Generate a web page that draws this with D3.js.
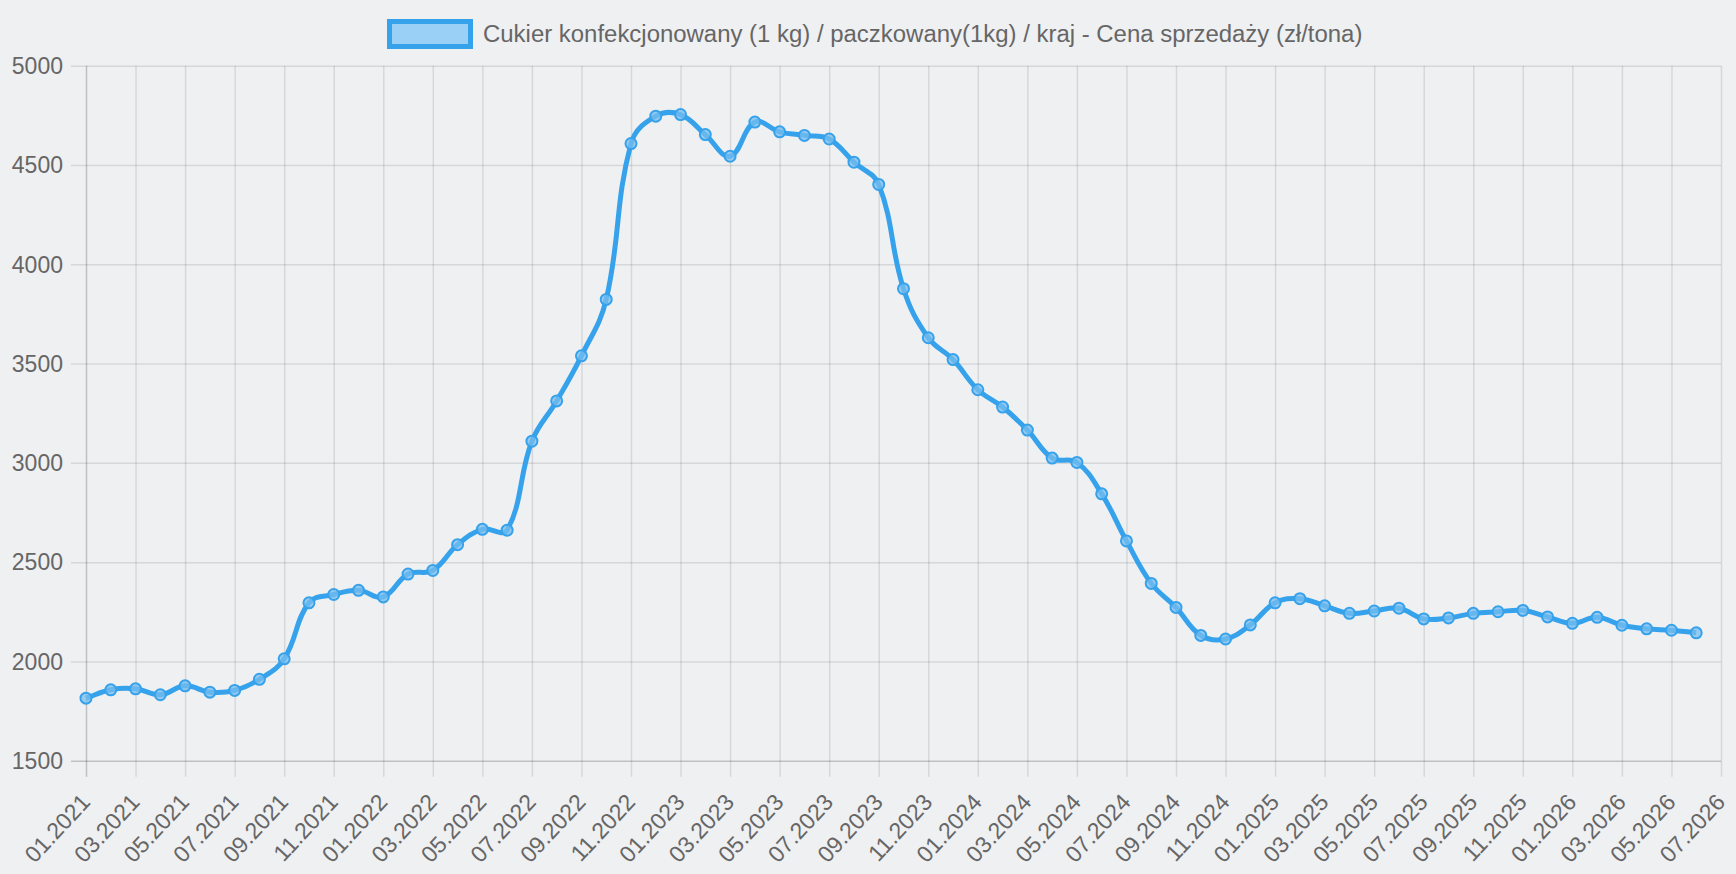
<!DOCTYPE html>
<html>
<head>
<meta charset="utf-8">
<script src="https://cdn.jsdelivr.net/npm/d3@7"></script>
<style>
  html, body { margin: 0; padding: 0; background: #eff0f2; }
  svg { display: block; }
  text { font-family: "Liberation Sans", Arial, Helvetica, sans-serif; fill: #666; }
</style>
</head>
<body>
<svg id="chart" width="1736" height="874"></svg>
<script>
// ---- data ----
const months = [
  "01.2021","02.2021","03.2021","04.2021","05.2021","06.2021","07.2021","08.2021","09.2021","10.2021","11.2021","12.2021",
  "01.2022","02.2022","03.2022","04.2022","05.2022","06.2022","07.2022","08.2022","09.2022","10.2022","11.2022","12.2022",
  "01.2023","02.2023","03.2023","04.2023","05.2023","06.2023","07.2023","08.2023","09.2023","10.2023","11.2023","12.2023",
  "01.2024","02.2024","03.2024","04.2024","05.2024","06.2024","07.2024","08.2024","09.2024","10.2024","11.2024","12.2024",
  "01.2025","02.2025","03.2025","04.2025","05.2025","06.2025","07.2025","08.2025","09.2025","10.2025","11.2025","12.2025",
  "01.2026","02.2026","03.2026","04.2026","05.2026","06.2026","07.2026"
];
const prices = [
  1815, 1857, 1862, 1832, 1877, 1845, 1854, 1910, 2013, 2295, 2337, 2358,
  2325, 2440, 2458, 2588, 2665, 2661, 3109, 3312, 3539, 3823, 4608, 4746,
  4754, 4653, 4544, 4716, 4667, 4649, 4631, 4514, 4402, 3877, 3630, 3520,
  3368, 3281, 3165, 3024, 3002, 2844, 2607, 2393, 2272, 2131, 2113, 2184,
  2295, 2316, 2280, 2242, 2254, 2268, 2214, 2219, 2242, 2250, 2257, 2224,
  2192, 2222, 2182, 2164, 2157, 2144
];
const yTicks = [1500, 2000, 2500, 3000, 3500, 4000, 4500, 5000];
const xTickLabels = months.filter((m, i) => i % 2 === 0);
const seriesLabel = "Cukier konfekcjonowany (1 kg) / paczkowany(1kg) / kraj - Cena sprzedaży (zł/tona)";

// ---- layout ----
const plotL = 86, plotR = 1721, plotT = 65.7, plotB = 760.7;
const svg = d3.select("#chart");

const x = d3.scalePoint().domain(months).range([plotL, plotR]);
const y = d3.scaleLinear().domain([1500, 5000]).range([plotB, plotT]);

const gridColor = "rgba(0,0,0,0.1)";
const axisColor = "rgba(0,0,0,0.2)";

// horizontal grid + y labels
const yAxis = d3.axisLeft(y).tickValues(yTicks).tickSize(0).tickFormat(d3.format("d"));
const gy = svg.append("g").attr("transform", `translate(${plotL},0)`).call(yAxis);
gy.select(".domain").remove();
gy.selectAll(".tick line").attr("x1", -15).attr("x2", plotR - plotL)
  .attr("stroke", d => d === 1500 ? axisColor : gridColor).attr("stroke-width", 1.5);
gy.selectAll(".tick text").attr("x", -23).attr("dy", "0.34em").attr("font-size", 23).attr("fill", "#666")
  .style("font-family", "'Liberation Sans', Arial, sans-serif");

// vertical grid + x labels
const xAxis = d3.axisBottom(x).tickValues(xTickLabels).tickSize(0);
const gx = svg.append("g").attr("transform", `translate(0,${plotB})`).call(xAxis);
gx.select(".domain").remove();
gx.selectAll(".tick line").attr("y1", plotT - plotB).attr("y2", 16)
  .attr("stroke", (d, i) => i === 0 ? axisColor : gridColor).attr("stroke-width", 1.5);
gx.selectAll(".tick text")
  .attr("font-size", 23).attr("fill", "#666")
  .style("font-family", "'Liberation Sans', Arial, sans-serif")
  .attr("text-anchor", "end")
  .attr("dy", "0.35em")
  .attr("transform", "translate(-1,37) rotate(-47)")
  .attr("x", 0).attr("y", 0);

// custom curve reproducing a tension-0.4 spline
function splineCurve(context) {
  let pts = [];
  return {
    areaStart() {}, areaEnd() {},
    lineStart() { pts = []; },
    point(px, py) { pts.push([+px, +py]); },
    lineEnd() {
      const n = pts.length, t = 0.4;
      if (!n) return;
      const cps = pts.map((p, i) => {
        const pr = pts[Math.max(0, i - 1)], nx = pts[Math.min(n - 1, i + 1)];
        const d01 = Math.hypot(p[0] - pr[0], p[1] - pr[1]);
        const d12 = Math.hypot(nx[0] - p[0], nx[1] - p[1]);
        let s01 = d01 / (d01 + d12), s12 = d12 / (d01 + d12);
        if (!isFinite(s01)) s01 = 0;
        if (!isFinite(s12)) s12 = 0;
        const fa = t * s01, fb = t * s12;
        return {
          p: [p[0] - fa * (nx[0] - pr[0]), p[1] - fa * (nx[1] - pr[1])],
          n: [p[0] + fb * (nx[0] - pr[0]), p[1] + fb * (nx[1] - pr[1])]
        };
      });
      context.moveTo(pts[0][0], pts[0][1]);
      for (let i = 1; i < n; i++) {
        context.bezierCurveTo(cps[i - 1].n[0], cps[i - 1].n[1], cps[i].p[0], cps[i].p[1], pts[i][0], pts[i][1]);
      }
    }
  };
}

const data = prices.map((v, i) => ({ m: months[i], v }));
const line = d3.line().x(d => x(d.m)).y(d => y(d.v)).curve(splineCurve);

svg.append("path").datum(data).attr("d", line)
  .attr("fill", "none").attr("stroke", "#36a2eb").attr("stroke-width", 5)
  .attr("stroke-linejoin", "round");

svg.append("g").selectAll("circle").data(data).join("circle")
  .attr("cx", d => x(d.m)).attr("cy", d => y(d.v)).attr("r", 5.5)
  .attr("fill", "rgba(120,190,240,0.75)").attr("stroke", "#36a2eb").attr("stroke-width", 2);

// legend
const lg = svg.append("g");
const legText = lg.append("text").attr("x", 483).attr("y", 42).attr("font-size", 100)
  .style("font-family", "'Liberation Sans', Arial, sans-serif").attr("fill", "#666").text(seriesLabel);
const w100 = legText.node().getComputedTextLength();
legText.attr("font-size", 100 * 880 / w100);
lg.append("rect").attr("x", 389.5).attr("y", 21.5).attr("width", 81).attr("height", 25)
  .attr("fill", "#9ad0f5").attr("stroke", "#36a2eb").attr("stroke-width", 5);
</script>
</body>
</html>
